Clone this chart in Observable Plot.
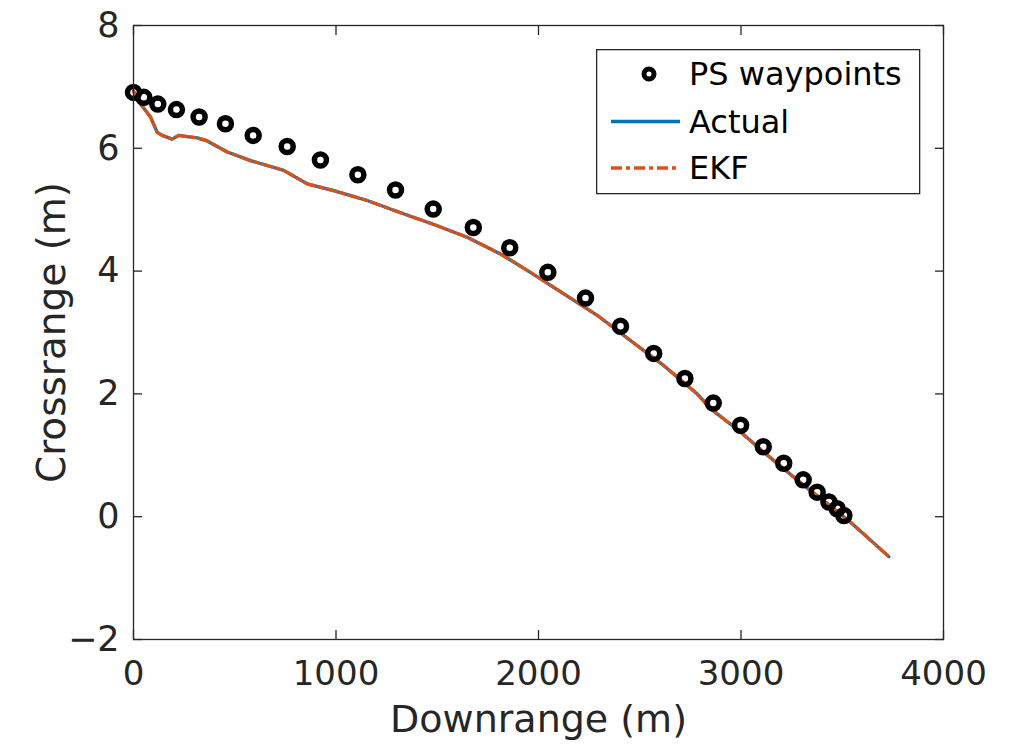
<!DOCTYPE html>
<html>
<head>
<meta charset="utf-8">
<script src="https://cdn.jsdelivr.net/npm/d3@7"></script>
<script src="https://cdn.jsdelivr.net/npm/@observablehq/plot@0.6"></script>
<style>
  html, body { margin: 0; padding: 0; background: white; }
  #wrap { position: relative; width: 1013px; height: 753px; }
  #legend { position: absolute; left: 596px; top: 49px; }
</style>
</head>
<body>
<div id="wrap"></div>
<script>
// Waypoints (PS waypoints)
const waypointX = [0, 51, 120, 212, 324, 454, 591, 759, 923, 1108, 1294, 1480, 1678, 1858, 2046, 2232, 2405, 2569, 2723, 2863, 2998, 3110, 3211, 3307, 3376, 3434, 3475, 3508];
const waypointY = [6.91, 6.83, 6.72, 6.63, 6.51, 6.40, 6.21, 6.03, 5.81, 5.57, 5.32, 5.01, 4.71, 4.38, 3.98, 3.56, 3.10, 2.66, 2.25, 1.85, 1.49, 1.14, 0.87, 0.60, 0.40, 0.24, 0.13, 0.02];

// Actual trajectory
const actualX = [0, 35, 84, 117, 142, 191, 224, 265, 315, 364, 463, 578, 742, 858, 989, 1154, 1319, 1483, 1648, 1812, 1960, 2125, 2290, 2454, 2619, 2784, 2849, 2998, 3113, 3211, 3310, 3409, 3541, 3730];
const actualY = [6.93, 6.72, 6.51, 6.26, 6.21, 6.15, 6.21, 6.19, 6.17, 6.12, 5.94, 5.80, 5.64, 5.42, 5.31, 5.15, 4.95, 4.76, 4.55, 4.28, 3.98, 3.63, 3.28, 2.87, 2.46, 2.00, 1.76, 1.38, 1.05, 0.78, 0.51, 0.26, -0.09, -0.65];

// EKF estimate (visually coincident with Actual)
const ekfX = [0, 35, 84, 117, 142, 191, 224, 265, 315, 364, 463, 578, 742, 858, 989, 1154, 1319, 1483, 1648, 1812, 1960, 2125, 2290, 2454, 2619, 2784, 2849, 2998, 3113, 3211, 3310, 3409, 3541, 3730];
const ekfY = [6.93, 6.72, 6.51, 6.26, 6.21, 6.15, 6.21, 6.19, 6.17, 6.12, 5.94, 5.80, 5.64, 5.42, 5.31, 5.15, 4.95, 4.76, 4.55, 4.28, 3.98, 3.63, 3.28, 2.87, 2.46, 2.00, 1.76, 1.38, 1.05, 0.78, 0.51, 0.26, -0.09, -0.65];

const xTicks = [0, 1000, 2000, 3000, 4000];
const yTicks = [-2, 0, 2, 4, 6, 8];
const seriesNames = ["PS waypoints", "Actual", "EKF"];
const xLabel = "Downrange (m)";
const yLabel = "Crossrange (m)";

const BLUE = "#0072BD", ORANGE = "#D95319", INK = "#262626";
const FONT = "DejaVu Sans, sans-serif";

const waypoints = waypointX.map((x, i) => ({x, y: waypointY[i]}));
const actual = actualX.map((x, i) => ({x, y: actualY[i]}));
const ekf = ekfX.map((x, i) => ({x, y: ekfY[i]}));

const chart = Plot.plot({
  width: 1013,
  height: 753,
  marginLeft: 133,
  marginRight: 70,
  marginTop: 25,
  marginBottom: 114,
  x: {domain: [0, 4000]},
  y: {domain: [-2, 8]},
  style: {fontFamily: FONT, color: INK, background: "white", overflow: "visible"},
  marks: [
    Plot.axisX(xTicks, {anchor: "bottom", tickSize: 0, tickPadding: 21, fontSize: 34, tickFormat: "d", label: null, fill: INK}),
    Plot.axisY(yTicks, {anchor: "left", tickSize: 0, tickPadding: 14, fontSize: 35, tickFormat: "d", label: null, fill: INK}),
    Plot.axisX(xTicks, {anchor: "bottom", tickSize: -9, tickFormat: () => "", label: null, stroke: INK, strokeWidth: 1.3}),
    Plot.axisX(xTicks, {anchor: "top", tickSize: -9, tickFormat: () => "", label: null, stroke: INK, strokeWidth: 1.3}),
    Plot.axisY(yTicks, {anchor: "left", tickSize: -9, tickFormat: () => "", label: null, stroke: INK, strokeWidth: 1.3}),
    Plot.axisY(yTicks, {anchor: "right", tickSize: -9, tickFormat: () => "", label: null, stroke: INK, strokeWidth: 1.3}),
    Plot.line(actual, {x: "x", y: "y", stroke: BLUE, strokeWidth: 3.3}),
    Plot.line(ekf, {x: "x", y: "y", stroke: ORANGE, strokeWidth: 3.3, strokeDasharray: "11,4,4,4"}),
    Plot.dot(waypoints, {x: "x", y: "y", r: 6, stroke: "black", strokeWidth: 5.5, fill: "none"}),
    Plot.frame({stroke: INK, strokeWidth: 1.3}),
    Plot.text([xLabel], {frameAnchor: "bottom", dy: 80, lineAnchor: "middle", textAnchor: "middle", fontSize: 38, fill: INK}),
    Plot.text([yLabel], {frameAnchor: "left", dx: -81, rotate: -90, lineAnchor: "middle", textAnchor: "middle", fontSize: 39, fill: INK})
  ]
});

const wrap = document.getElementById("wrap");
wrap.appendChild(chart);

// Legend (overlay inside the plot area)
const lw = 323, lh = 144;
const legend = d3.create("svg")
  .attr("id", "legend")
  .attr("width", lw + 2)
  .attr("height", lh + 2)
  .style("font-family", FONT);
legend.append("rect")
  .attr("x", 0.65).attr("y", 0.65)
  .attr("width", lw).attr("height", lh)
  .attr("fill", "white").attr("stroke", INK).attr("stroke-width", 1.3);
const rows = [25, 72.5, 119];
// PS waypoints marker
legend.append("circle").attr("cx", 53).attr("cy", rows[0]).attr("r", 5)
  .attr("fill", "none").attr("stroke", "black").attr("stroke-width", 5);
// Actual line sample
legend.append("line").attr("x1", 15).attr("x2", 84).attr("y1", rows[1]).attr("y2", rows[1])
  .attr("stroke", BLUE).attr("stroke-width", 3.3);
// EKF line sample
legend.append("line").attr("x1", 15).attr("x2", 84).attr("y1", rows[2]).attr("y2", rows[2])
  .attr("stroke", ORANGE).attr("stroke-width", 3.3).attr("stroke-dasharray", "11,4,4,4");
seriesNames.forEach((name, i) => {
  legend.append("text")
    .attr("x", 93).attr("y", rows[i])
    .attr("dy", "0.35em")
    .attr("font-size", 32)
    .attr("fill", "black")
    .text(name);
});
wrap.appendChild(legend.node());
</script>
</body>
</html>
